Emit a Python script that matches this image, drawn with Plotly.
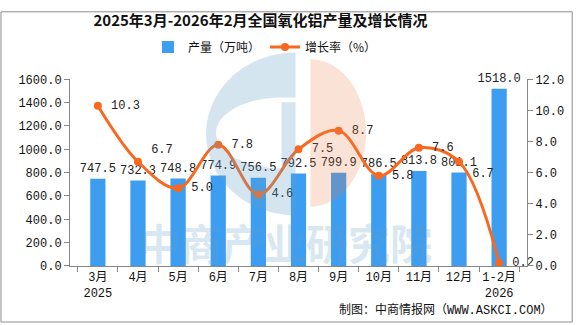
import math
import plotly.graph_objects as go

categories = ["3月<br>2025", "4月", "5月", "6月", "7月", "8月", "9月", "10月", "11月", "12月", "1-2月<br>2026"]
production = [747.5, 732.3, 748.8, 774.9, 756.5, 792.5, 799.9, 786.5, 813.8, 801.1, 1518.0]
growth = [10.3, 6.7, 5.0, 7.8, 4.6, 7.5, 8.7, 5.8, 7.6, 6.7, 0.2]
growth_pos = ["middle right", "top right", "middle right", "middle right", "middle right",
              "middle right", "middle right", "middle right", "middle right", "bottom right", "middle right"]

W, H = 576, 325
L, R, T, B = 70, 530, 71, 266

def px(x):
    return (x - L) / (R - L)

def py(y):
    return (B - y) / (B - T)

def ell(cx, cy, rx, ry, a0, a1, n=40):
    pts = []
    for i in range(n + 1):
        a = math.radians(a0 + (a1 - a0) * i / n)
        pts.append((cx + rx * math.cos(a), cy + ry * math.sin(a)))
    return pts

def path(polys):
    s = ""
    for poly in polys:
        s += "M " + " L ".join(f"{px(x):.4f},{py(y):.4f}" for x, y in poly) + " Z "
    return s

# logo watermark geometry (pixel space)
outer = ell(297, 128, 90, 85, -90, -270)
hole = [(297, 90), (297, 95), (283, 95)] + ell(283, 127, 66, 37, 90, 270)
orange = ell(312, 127, 56, 77, -90, 90)

mono = "Liberation Mono, Noto Sans CJK SC, monospace"
cjk = "Noto Sans CJK SC, sans-serif"
bar_color = "#3d9df0"
line_color = "#f8681e"

fig = go.Figure()
fig.add_trace(go.Bar(
    x=categories, y=production, name="产量（万吨）",
    marker=dict(color=bar_color, line=dict(width=0)),
    width=0.38,
    texttemplate="%{y:.1f}", textposition="outside", constraintext="none",
    textfont=dict(family=mono, size=12, color="#222222"),
    cliponaxis=False,
))
fig.add_trace(go.Scatter(
    x=categories, y=growth, name="增长率（%）", yaxis="y2",
    mode="lines+markers+text",
    line=dict(color=line_color, width=3, shape="spline", smoothing=1),
    marker=dict(color=line_color, size=8),
    texttemplate="\u00a0%{y:.1f}", textposition=growth_pos,
    textfont=dict(family=mono, size=12, color="#222222"),
    cliponaxis=False,
))

shapes = [
    dict(type="path", xref="paper", yref="paper", path=path([outer, hole]),
         fillcolor="rgba(100,160,200,0.28)", line=dict(width=0), layer="above"),
    dict(type="path", xref="paper", yref="paper", path=path([orange]),
         fillcolor="rgba(238,122,69,0.22)", line=dict(width=0), layer="above"),
    dict(type="rect", xref="paper", yref="paper",
         x0=px(0.5), x1=px(575.5), y0=py(0.5), y1=py(324.5),
         line=dict(color="#8c8c8c", width=1), fillcolor="rgba(0,0,0,0)", layer="above"),
]

annotations = [
    dict(text="中商产业研究院", xref="paper", yref="paper", x=px(286), y=py(240),
         xanchor="center", yanchor="middle", showarrow=False,
         font=dict(family=cjk, size=42, color="rgba(100,160,200,0.25)", weight="bold")),
    dict(text="制图：中商情报网（WWW.ASKCI.COM）", xref="paper", yref="paper",
         x=px(558), y=py(312), xanchor="right", yanchor="middle", showarrow=False,
         font=dict(family=mono, size=12, color="#111111")),
]

fig.update_layout(
    width=W, height=H,
    margin=dict(l=L, r=W - R, t=T, b=H - B),
    paper_bgcolor="white", plot_bgcolor="white",
    title=dict(text="<b>2025年3月-2026年2月全国氧化铝产量及增长情况</b>",
               x=260.5 / W, xref="container", xanchor="center",
               y=1 - 21 / H, yref="container", yanchor="middle",
               font=dict(family=cjk, size=15, color="#111111")),
    legend=dict(orientation="h", xref="container", yref="container",
                x=0.46, xanchor="center", y=1 - 47 / H, yanchor="middle",
                font=dict(family=cjk, size=12, color="#111111"),
                bgcolor="rgba(0,0,0,0)", itemwidth=30, tracegroupgap=0),
    showlegend=True,
    xaxis=dict(type="category", showline=True, linecolor="#868686", linewidth=1,
               ticks="outside", tickson="boundaries", ticklen=5, tickcolor="#868686",
               tickangle=0,
               tickfont=dict(family=mono, size=12, color="#111111"),
               showgrid=False, zeroline=False, fixedrange=True),
    yaxis=dict(range=[0, 1600], dtick=200, tickformat=".1f", showline=True,
               linecolor="#868686", ticks="outside", ticklen=5, tickcolor="#868686",
               tickfont=dict(family=mono, size=12, color="#111111"),
               showgrid=False, zeroline=False),
    yaxis2=dict(range=[0, 12], dtick=2, tickformat=".1f", overlaying="y", side="right",
                showline=True, linecolor="#868686", ticks="outside", ticklen=5,
                tickcolor="#868686",
                tickfont=dict(family=mono, size=12, color="#111111"),
                showgrid=False, zeroline=False),
    shapes=shapes,
    annotations=annotations,
)

fig.write_html("out.html")
